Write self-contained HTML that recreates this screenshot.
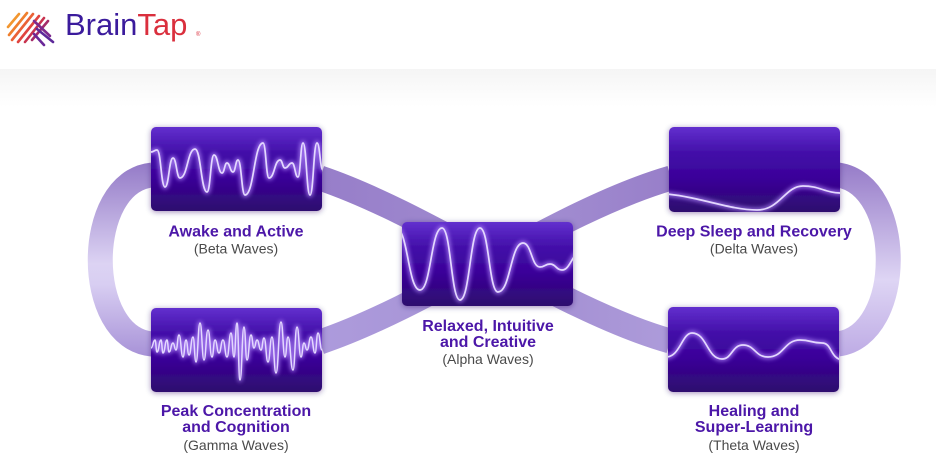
<!DOCTYPE html>
<html>
<head>
<meta charset="utf-8">
<style>
  html, body { margin:0; padding:0; background:#ffffff; }
  body { width:936px; height:464px; overflow:hidden; position:relative; }
  svg { display:block; }
  .t { font-family:"Liberation Sans", Arial, sans-serif; }
</style>
</head>
<body>
<svg width="936" height="464" viewBox="0 0 936 464" xmlns="http://www.w3.org/2000/svg">
  <defs>
    <linearGradient id="band" x1="0" y1="0" x2="0" y2="1">
      <stop offset="0" stop-color="#f5f5f5"/>
      <stop offset="1" stop-color="#ffffff"/>
    </linearGradient>
    <linearGradient id="box" x1="0" y1="0" x2="0" y2="1">
      <stop offset="0" stop-color="#6230ce"/>
      <stop offset="0.3" stop-color="#430fa9"/>
      <stop offset="0.6" stop-color="#3a0299"/>
      <stop offset="1" stop-color="#2d0b6e"/>
    </linearGradient>
    <linearGradient id="gl" gradientUnits="userSpaceOnUse" x1="0" y1="160" x2="0" y2="360">
      <stop offset="0" stop-color="#9278c6"/>
      <stop offset="0.52" stop-color="#dcd3f3"/>
      <stop offset="0.62" stop-color="#d8cef2"/>
      <stop offset="1" stop-color="#a58fd6"/>
    </linearGradient>
    <linearGradient id="gr" gradientUnits="userSpaceOnUse" x1="0" y1="160" x2="0" y2="360">
      <stop offset="0" stop-color="#9479c7"/>
      <stop offset="0.6" stop-color="#ded5f4"/>
      <stop offset="1" stop-color="#bca9e4"/>
    </linearGradient>
    <linearGradient id="s1" gradientUnits="userSpaceOnUse" x1="322" y1="0" x2="668" y2="0">
      <stop offset="0" stop-color="#977ec9"/>
      <stop offset="0.5" stop-color="#a08bd0"/>
      <stop offset="1" stop-color="#ad9bda"/>
    </linearGradient>
    <linearGradient id="s2" gradientUnits="userSpaceOnUse" x1="322" y1="0" x2="669" y2="0">
      <stop offset="0" stop-color="#ad9bdc"/>
      <stop offset="0.5" stop-color="#a592d4"/>
      <stop offset="1" stop-color="#987fc9"/>
    </linearGradient>
    <filter id="sh" x="-20%" y="-30%" width="140%" height="160%">
      <feDropShadow dx="0" dy="1" stdDeviation="3" flood-color="#2a0066" flood-opacity="0.45"/>
    </filter>
    <filter id="glow" x="-10%" y="-30%" width="120%" height="160%">
      <feGaussianBlur stdDeviation="2.2"/>
    </filter>
    <clipPath id="cb"><rect x="151" y="127" width="171" height="84" rx="5"/></clipPath>
    <clipPath id="ca"><rect x="402" y="222" width="171" height="84" rx="5"/></clipPath>
    <clipPath id="cd"><rect x="669" y="127" width="171" height="85" rx="5"/></clipPath>
    <clipPath id="ct"><rect x="668" y="307" width="171" height="85" rx="5"/></clipPath>
    <clipPath id="cg"><rect x="151" y="308" width="171" height="84" rx="5"/></clipPath>
  </defs>

  <!-- header band -->
  <rect x="0" y="69" width="936" height="38" fill="url(#band)"/>

  <!-- logo -->
  <g stroke-linecap="round" stroke-width="2.6" fill="none">
    <line x1="8" y1="27" x2="19" y2="14" stroke="#f29630"/>
    <line x1="9" y1="35" x2="27" y2="13" stroke="#ef7f2e"/>
    <line x1="12" y1="40" x2="33" y2="14" stroke="#ea6236"/>
    <line x1="18" y1="42" x2="39" y2="16" stroke="#e0443f"/>
    <line x1="25" y1="42" x2="44" y2="18" stroke="#c8334f"/>
    <line x1="32" y1="40" x2="48" y2="21" stroke="#a52c6a"/>
    <line x1="34" y1="21" x2="50" y2="36" stroke="#7c2a8e"/>
    <line x1="37" y1="29" x2="53" y2="42" stroke="#5d2a9a"/>
    <line x1="34" y1="34" x2="44" y2="45" stroke="#6a2898"/>
  </g>
  <text class="t" x="65" y="35" font-size="31" fill="#3b1b9c">Brain<tspan fill="#da2f3d">Tap</tspan></text>
  <text class="t" x="196" y="36" font-size="6" fill="#da2f3d">®</text>

  <!-- connector bands -->
  <g fill="none" stroke-width="25" stroke-linecap="butt">
    <path d="M152,175 C83,182 83,338 152,344" stroke="url(#gl)"/>
    <path d="M838,175 C905,185 905,335 838,344" stroke="url(#gr)"/>
    <path d="M320,178 C430,215 560,310 670,341" stroke="url(#s1)"/>
    <path d="M320,342 C430,305 560,210 671,178" stroke="url(#s2)"/>
  </g>

  <!-- boxes -->
  <g filter="url(#sh)">
    <rect x="151" y="127" width="171" height="84" rx="5" fill="url(#box)"/>
    <rect x="402" y="222" width="171" height="84" rx="5" fill="url(#box)"/>
    <rect x="669" y="127" width="171" height="85" rx="5" fill="url(#box)"/>
    <rect x="668" y="307" width="171" height="85" rx="5" fill="url(#box)"/>
    <rect x="151" y="308" width="171" height="84" rx="5" fill="url(#box)"/>
  </g>

  <!-- waves -->
  <g fill="none" stroke-linecap="round" stroke-linejoin="round">
    <!-- Beta -->
    <g clip-path="url(#cb)">
      <path d="M151,152 C154,152 154,150 157,150 C161,150 161,187 165,187 C169,187 169,158 173,158 C176.5,158 176.5,178 180,178 C187.5,178 187.5,149 195,149 C201,149 201,192 207,192 C210.5,192 210.5,155 214,155 C218,155 218,173 222,173 C224.5,173 224.5,163 227,163 C230,163 230,172 233,172 C235.5,172 235.5,160 238,160 C241.5,160 241.5,195 245,195 C254,195 254,143 263,143 C266,143 266,178 269,178 C274.5,178 274.5,160 280,160 C282.5,160 282.5,168 285,168 C288.5,168 288.5,163 292,163 C295,163 295,177 298,177 C300.5,177 300.5,143 303,143 C306.5,143 306.5,195 310,195 C313.5,195 313.5,143 317,143 C320,143 320,170 323,170" stroke="#b68cff" stroke-width="4.5" opacity="0.75" filter="url(#glow)"/>
      <path d="M151,152 C154,152 154,150 157,150 C161,150 161,187 165,187 C169,187 169,158 173,158 C176.5,158 176.5,178 180,178 C187.5,178 187.5,149 195,149 C201,149 201,192 207,192 C210.5,192 210.5,155 214,155 C218,155 218,173 222,173 C224.5,173 224.5,163 227,163 C230,163 230,172 233,172 C235.5,172 235.5,160 238,160 C241.5,160 241.5,195 245,195 C254,195 254,143 263,143 C266,143 266,178 269,178 C274.5,178 274.5,160 280,160 C282.5,160 282.5,168 285,168 C288.5,168 288.5,163 292,163 C295,163 295,177 298,177 C300.5,177 300.5,143 303,143 C306.5,143 306.5,195 310,195 C313.5,195 313.5,143 317,143 C320,143 320,170 323,170" stroke="#e4d8ff" stroke-width="1.7"/>
    </g>
    <!-- Alpha -->
    <g clip-path="url(#ca)">
      <path d="M396,228 C408,228 408,290 420,290 C431,290 431,228 442,228 C451,228 451,300 460,300 C470,300 470,228 480,228 C489,228 489,292 498,292 C510.5,292 510.5,243 523,243 C531.5,243 531.5,267 540,267 C545,267 545,264 550,264 C556,264 556,270 562,270 C568,270 570,262 576,254" stroke="#b68cff" stroke-width="4.5" opacity="0.75" filter="url(#glow)"/>
      <path d="M396,228 C408,228 408,290 420,290 C431,290 431,228 442,228 C451,228 451,300 460,300 C470,300 470,228 480,228 C489,228 489,292 498,292 C510.5,292 510.5,243 523,243 C531.5,243 531.5,267 540,267 C545,267 545,264 550,264 C556,264 556,270 562,270 C568,270 570,262 576,254" stroke="#e4d8ff" stroke-width="1.7"/>
    </g>
    <!-- Delta -->
    <g clip-path="url(#cd)">
      <path d="M666,194 C700,197 730,210 757,210 C780,210 785,186 803,186 C820,186 825,193 842,193" stroke="#b68cff" stroke-width="4.5" opacity="0.75" filter="url(#glow)"/>
      <path d="M666,194 C700,197 730,210 757,210 C780,210 785,186 803,186 C820,186 825,193 842,193" stroke="#e4d8ff" stroke-width="1.7"/>
    </g>
    <!-- Theta -->
    <g clip-path="url(#ct)">
      <path d="M666,357 C680,357 682,333 692,333 C707,333 707,359 722,359 C732,359 732,345 743,345 C755,345 755,357 768,357 C784,357 784,340 800,340 C811,340 811,343 822,343 C832,343 830,358 842,360" stroke="#b68cff" stroke-width="4.5" opacity="0.75" filter="url(#glow)"/>
      <path d="M666,357 C680,357 682,333 692,333 C707,333 707,359 722,359 C732,359 732,345 743,345 C755,345 755,357 768,357 C784,357 784,340 800,340 C811,340 811,343 822,343 C832,343 830,358 842,360" stroke="#e4d8ff" stroke-width="1.7"/>
    </g>
    <!-- Gamma -->
    <g clip-path="url(#cg)">
      <path d="M151,348 C153,348 153,340 155,340 C156,340 156,352 157,352 C159,352 159,340 161,340 C162,340 162,353 163,353 C165,353 165,340 167,340 C168,340 168,352 169,352 C171,352 171,343 173,343 C174.5,343 174.5,350 176,350 C177.5,350 177.5,335 179,335 C181,335 181,357 183,357 C184.5,357 184.5,340 186,340 C187.5,340 187.5,355 189,355 C191,355 191,337 193,337 C194.5,337 194.5,362 196,362 C198,362 198,323 200,323 C202,323 202,360 204,360 C206,360 206,330 208,330 C210,330 210,357 212,357 C213.5,357 213.5,340 215,340 C217,340 217,353 219,353 C221,353 221,340 223,340 C225,340 225,357 227,357 C229,357 229,333 231,333 C232.5,333 232.5,357 234,357 C235.5,357 235.5,323 237,323 C238.5,323 238.5,380 240,380 C242,380 242,327 244,327 C245.5,327 245.5,360 247,360 C249,360 249,335 251,335 C252.5,335 252.5,348 254,348 C255.5,348 255.5,340 257,340 C259,340 259,350 261,350 C262.5,350 262.5,338 264,338 C266,338 266,362 268,362 C270,362 270,337 272,337 C274,337 274,373 276,373 C278.5,373 278.5,322 281,322 C283,322 283,357 285,357 C286.5,357 286.5,337 288,337 C290.5,337 290.5,370 293,370 C295,370 295,327 297,327 C299,327 299,357 301,357 C302.5,357 302.5,343 304,343 C305.5,343 305.5,350 307,350 C309,350 309,337 311,337 C313,337 313,353 315,353 C316.5,353 316.5,333 318,333 C320,333 320,350 322,350 C323,350 323,345 324,345" stroke="#b68cff" stroke-width="4" opacity="0.75" filter="url(#glow)"/>
      <path d="M151,348 C153,348 153,340 155,340 C156,340 156,352 157,352 C159,352 159,340 161,340 C162,340 162,353 163,353 C165,353 165,340 167,340 C168,340 168,352 169,352 C171,352 171,343 173,343 C174.5,343 174.5,350 176,350 C177.5,350 177.5,335 179,335 C181,335 181,357 183,357 C184.5,357 184.5,340 186,340 C187.5,340 187.5,355 189,355 C191,355 191,337 193,337 C194.5,337 194.5,362 196,362 C198,362 198,323 200,323 C202,323 202,360 204,360 C206,360 206,330 208,330 C210,330 210,357 212,357 C213.5,357 213.5,340 215,340 C217,340 217,353 219,353 C221,353 221,340 223,340 C225,340 225,357 227,357 C229,357 229,333 231,333 C232.5,333 232.5,357 234,357 C235.5,357 235.5,323 237,323 C238.5,323 238.5,380 240,380 C242,380 242,327 244,327 C245.5,327 245.5,360 247,360 C249,360 249,335 251,335 C252.5,335 252.5,348 254,348 C255.5,348 255.5,340 257,340 C259,340 259,350 261,350 C262.5,350 262.5,338 264,338 C266,338 266,362 268,362 C270,362 270,337 272,337 C274,337 274,373 276,373 C278.5,373 278.5,322 281,322 C283,322 283,357 285,357 C286.5,357 286.5,337 288,337 C290.5,337 290.5,370 293,370 C295,370 295,327 297,327 C299,327 299,357 301,357 C302.5,357 302.5,343 304,343 C305.5,343 305.5,350 307,350 C309,350 309,337 311,337 C313,337 313,353 315,353 C316.5,353 316.5,333 318,333 C320,333 320,350 322,350 C323,350 323,345 324,345" stroke="#e4d8ff" stroke-width="1.5"/>
    </g>
  </g>

  <!-- labels -->
  <g class="t" text-anchor="middle">
    <text x="236" y="236.5" font-size="16" font-weight="bold" fill="#4c17a8">Awake and Active</text>
    <text x="236" y="253.5" font-size="14" fill="#4a4a4a">(Beta Waves)</text>

    <text x="754" y="236.5" font-size="16" font-weight="bold" fill="#4c17a8">Deep Sleep and Recovery</text>
    <text x="754" y="253.5" font-size="14" fill="#4a4a4a">(Delta Waves)</text>

    <text x="488" y="331" font-size="16" font-weight="bold" fill="#4c17a8">Relaxed, Intuitive</text>
    <text x="488" y="347" font-size="16" font-weight="bold" fill="#4c17a8">and Creative</text>
    <text x="488" y="364" font-size="14" fill="#4a4a4a">(Alpha Waves)</text>

    <text x="236" y="416" font-size="16" font-weight="bold" fill="#4c17a8">Peak Concentration</text>
    <text x="236" y="432" font-size="16" font-weight="bold" fill="#4c17a8">and Cognition</text>
    <text x="236" y="450" font-size="14" fill="#4a4a4a">(Gamma Waves)</text>

    <text x="754" y="416" font-size="16" font-weight="bold" fill="#4c17a8">Healing and</text>
    <text x="754" y="432" font-size="16" font-weight="bold" fill="#4c17a8">Super-Learning</text>
    <text x="754" y="450" font-size="14" fill="#4a4a4a">(Theta Waves)</text>
  </g>
</svg>
</body>
</html>
